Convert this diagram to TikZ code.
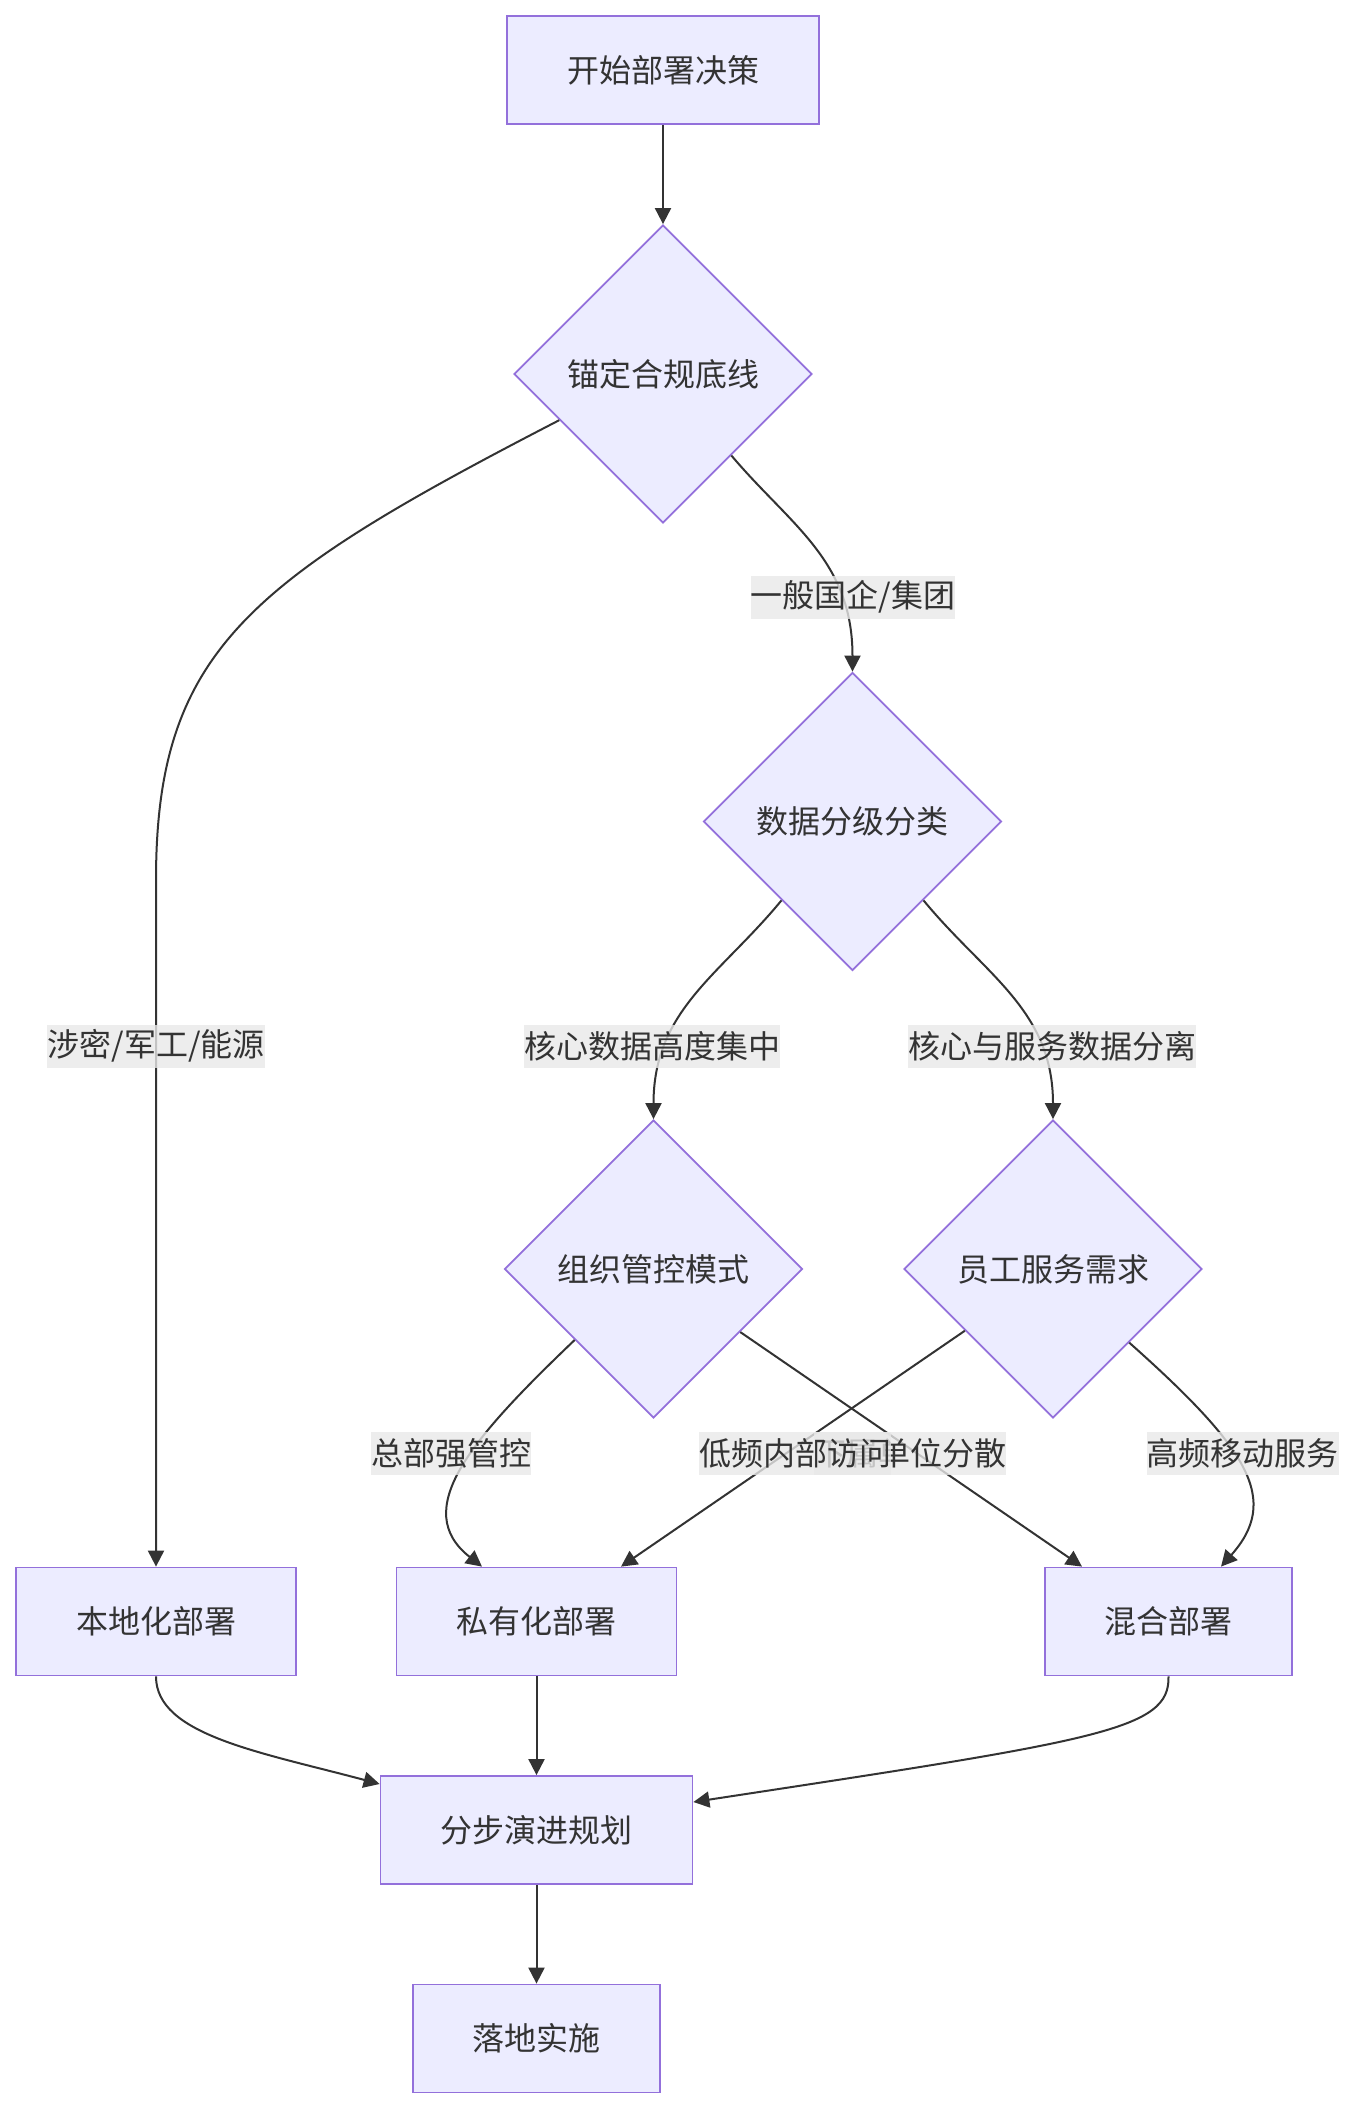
\documentclass[tikz,border=0pt]{standalone}
\usepackage{fontspec}
\setmainfont{Noto Sans CJK SC}
\usetikzlibrary{shapes.geometric,arrows.meta,calc}
\definecolor{nfill}{HTML}{ECECFF}
\definecolor{nline}{HTML}{9370DB}
\definecolor{eline}{HTML}{333333}
\definecolor{lbg}{HTML}{E8E8E8}
\definecolor{txt}{HTML}{333333}
\begin{document}
\begin{tikzpicture}[x=0.5pt,y=-0.5pt,
  font=\fontsize{16pt}{20pt}\selectfont, text=txt,
  box/.style={rectangle, draw=nline, fill=nfill, line width=0.9pt, minimum height=54pt, inner sep=0pt},
  dec/.style={diamond, draw=nline, fill=nfill, line width=0.9pt, minimum width=149pt, minimum height=149pt, inner sep=0pt},
  lbl/.style={fill=lbg, fill opacity=0.8, text opacity=1, inner xsep=0pt, inner ysep=0pt, minimum height=21.5pt},
  conn/.style={draw=eline, line width=1pt, -{Triangle[length=8pt,width=8pt]}}
]
\useasboundingbox (0,0) rectangle (1354,2108);

% nodes
\node[box, minimum width=156pt] (start) at (663,70) {开始部署决策};
\node[dec] (d1) at (663,374) {锚定合规底线};
\node[dec] (d2) at (852.5,821.5) {数据分级分类};
\node[dec] (d3) at (653.5,1269) {组织管控模式};
\node[dec] (d4) at (1053,1269) {员工服务需求};
\node[box, minimum width=140pt] (local) at (156,1621.5) {本地化部署};
\node[box, minimum width=140pt] (priv) at (536.5,1621.5) {私有化部署};
\node[box, minimum width=123.5pt] (hyb) at (1168.5,1621.5) {混合部署};
\node[box, minimum width=156pt] (plan) at (536.5,1830) {分步演进规划};
\node[box, minimum width=123.5pt] (impl) at (536.5,2038.5) {落地实施};

\coordinate (lbend) at (156,880);

% connectors
\draw[conn] (start.south) -- (d1.north);
\draw[conn] (d1.204) .. controls (250,580) and (156,650) .. (lbend) -- (local.north);
\draw[conn] (d1.310) .. controls (790,525) and (852.5,560) .. (d2.north);
\draw[conn] (d2.228) .. controls (720,975) and (653.5,1010) .. (d3.north);
\draw[conn] (d2.312) .. controls (985,975) and (1053,1010) .. (d4.north);
\draw[conn] (d3.222) .. controls (470,1440) and (410,1510) .. ($(priv.north)+(-54.5,0)$);
\draw[conn] (d3.324) -- ($(hyb.north)+(-86.5,0)$);
\draw[conn] (d4.215) -- ($(priv.north)+(84.5,0)$);
\draw[conn] (d4.316) .. controls (1250,1450) and (1280,1500) .. ($(hyb.north)+(52.5,0)$);
\draw[conn] (local.south) .. controls (156,1735) and (260,1752) .. ($(plan.west)+(0,-46)$);
\draw[conn] (priv.south) -- (plan.north);
\draw[conn] (hyb.south) .. controls (1170,1730) and (1100,1740) .. ($(plan.east)+(0,-28)$);
\draw[conn] (plan.south) -- (impl.north);

% edge labels
\node[lbl] (l1) at (156,1046) {涉密/军工/能源};
\node[lbl] (l2) at (853,597) {一般国企/集团};
\node[lbl] (l3) at (652,1046) {核心数据高度集中};
\node[lbl] (l4) at (1052,1046) {核心与服务数据分离};
\node[lbl] (l5) at (451,1453.5) {总部强管控};
\node[lbl] (l7) at (910,1453.5) {下属单位分散};
\node[lbl] (l6) at (795,1453.5) {低频内部访问};
\node[lbl] (l8) at (1242.5,1453.5) {高频移动服务};
\end{tikzpicture}
\end{document}
